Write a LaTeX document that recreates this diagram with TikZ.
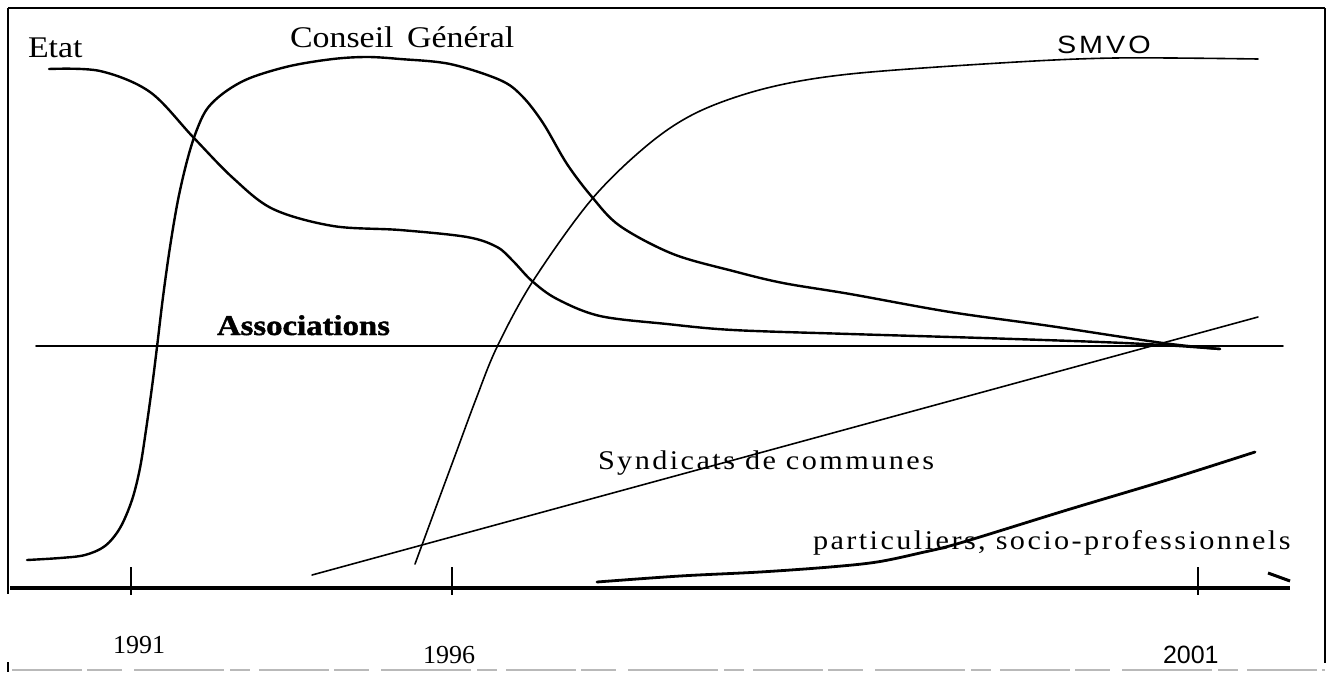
\documentclass[tikz,border=0pt]{standalone}
\usepackage{fontspec}
\setmainfont{Liberation Serif}
\newfontfamily\sansf{Liberation Sans}
\newfontfamily\wideserif[FakeStretch=1.13]{Liberation Serif}
\newfontfamily\assocfont[FakeStretch=1.15, FakeBold=1.5]{Liberation Serif Bold}
\newfontfamily\spacedserif[FakeStretch=1.12, LetterSpace=9]{Liberation Serif}
\newfontfamily\spacedsans[FakeStretch=1.15, LetterSpace=12]{Liberation Sans}
\begin{document}
\begin{tikzpicture}[x=1pt,y=-1pt,
  lbl/.style={inner sep=0pt, outer sep=0pt, anchor=base west},
  heavy/.style={line width=2.4pt, line cap=round, line join=round},
  light/.style={line width=1.6pt, line cap=round, line join=round},
  framel/.style={line width=2.8pt},
  tickmark/.style={line width=1.8pt},
  smoothplot/.style={smooth, tension=0.55},
]
\useasboundingbox (0,0) rectangle (1332,672);
% frame
\draw[framel] (8,8) -- (1325,8);
\draw[framel] (8,8) -- (8,594);
\draw[framel] (8,662) -- (8,672);
\draw[line width=2pt] (1325,8) -- (1325,663);
\draw[gray!55, line width=2pt, dash pattern=on 70pt off 5pt on 35pt off 12pt on 90pt off 6pt on 20pt off 9pt] (12,670) -- (1325,670);
% axis
\draw[line width=3.2pt] (10,588) -- (1290,588);
\draw[tickmark] (131,567) -- (131,595);
\draw[tickmark] (452,567) -- (452,595);
\draw[tickmark] (1198,567) -- (1198,595);
\draw[line width=3pt] (1268,573) -- (1290,581);
% Associations
\draw[light] (36,346) -- (1283,346);
% Etat
\draw[heavy] plot[smoothplot] coordinates {(49,69) (100,71) (150,92) (193,137) (233,178) (273,209) (333,226) (400,230) (467,237) (497,247) (513,261) (532,281) (557,299) (600,316) (667,324) (733,330) (850,334) (983,338) (1100,342) (1163,345) (1220,349)};
% Conseil General
\draw[heavy] plot[smoothplot] coordinates {(27,560) (60,558) (85,555) (105,546) (120,528) (132,500) (140,468) (146,430) (152,387) (157,347) (163,297) (170,247) (178,200) (187,161) (196,132) (207,109) (225,92) (250,78) (290,66) (333,59) (367,57) (400,59) (450,64) (500,80) (522,96) (543,123) (567,164) (592,197) (620,226) (673,254) (733,271) (783,283) (850,294) (950,312) (1050,326) (1163,343) (1220,349)};
% SMVO
\draw[light] plot[smoothplot] coordinates {(415,564) (436,507) (456,453) (476,399) (497,347) (533,281) (592,199) (650,143) (700,111) (767,88) (850,74) (1000,63) (1115,58) (1258,59)};
% Syndicats
\draw[light] (312,575) -- (1258,317);
% particuliers
\draw[heavy, line width=2.8pt] plot[smoothplot] coordinates {(597,582) (680,576) (760,572) (830,567) (877,562) (920,553) (960,543) (1067,510) (1167,480) (1255,452)};
% labels
\node[lbl] (etat) at (28,57) {\wideserif\fontsize{30}{36}\selectfont Etat};
\node[lbl] (cg) at (290,47) {\wideserif\fontsize{30}{36}\selectfont Conseil\, Général};
\node[lbl] (smvo) at (1057,53) {\spacedsans\fontsize{25}{30}\selectfont SMVO};
\node[lbl] (assoc) at (217,335) {\assocfont\fontsize{28.5}{34}\selectfont Associations};
\node[lbl] (synd) at (598,469) {\spacedserif\fontsize{27}{32}\selectfont Syndicats de communes};
\node[lbl] (part) at (813,549) {\spacedserif\fontsize{27}{32}\selectfont particuliers, socio-professionnels};
\node[lbl] (y91) at (113,653) {\fontsize{26}{31}\selectfont 1991};
\node[lbl] (y96) at (423,663) {\fontsize{26}{31}\selectfont 1996};
\node[lbl] (y01) at (1163,663) {\sansf\fontsize{25}{30}\selectfont 2001};
\end{tikzpicture}
\end{document}
